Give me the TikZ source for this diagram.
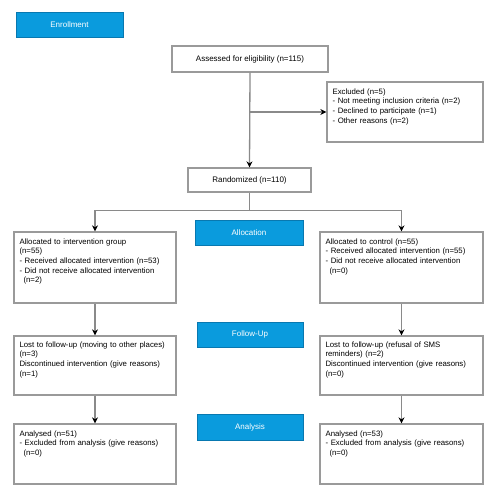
\documentclass[tikz,border=0pt]{standalone}
\usepackage{fontspec}
\setmainfont{Liberation Sans}
\usetikzlibrary{arrows.meta}
\definecolor{phase}{HTML}{0A9BDD}
\definecolor{phaseedge}{HTML}{0878B0}
\definecolor{boxedge}{HTML}{9A9A9A}
\definecolor{lineclr}{HTML}{8A8A8A}
\begin{document}
\begin{tikzpicture}[x=1pt,y=1pt,
  phasebox/.style={fill=phase,draw=phaseedge,line width=0.8pt,text=white,font=\fontsize{8}{9.5}\selectfont,inner sep=0pt},
  flowbox/.style={draw=boxedge,line width=1.3pt,fill=white,inner sep=0pt},
  flowtext/.style={anchor=north west,align=left,font=\fontsize{7.8}{9.6}\selectfont,inner sep=0pt},
  conn/.style={draw=lineclr,line width=1.3pt},
  arr/.style={conn,-{Stealth[length=6pt,width=6pt,fill=black,color=black]}}]
\useasboundingbox (0,0) rectangle (500,-500);
\fill[white] (0,0) rectangle (500,-500);

% phase labels
\node[phasebox,minimum width=107,minimum height=25] (enroll) at (69.5,-24.5) {Enrollment};
\node[phasebox,minimum width=108,minimum height=25] (alloc) at (249,-232.5) {Allocation};
\node[phasebox,minimum width=106,minimum height=25] (follow) at (250,-334.5) {Follow-Up};
\node[phasebox,minimum width=106,minimum height=26] (analysis) at (250,-427) {Analysis};

% enrollment boxes
\node[flowbox,minimum width=156,minimum height=26,font=\fontsize{8}{9.6}\selectfont] (assess) at (250,-59) {Assessed for eligibility (n=115)};
\node[flowbox,minimum width=156,minimum height=60] (excl) at (405,-112) {};
\node[flowtext,text width=148] (excltxt) at ([xshift=6,yshift=-7]excl.north west)
  {Excluded (n=5)\\- Not meeting inclusion criteria (n=2)\\- Declined to participate (n=1)\\- Other reasons (n=2)};
\node[flowbox,minimum width=123,minimum height=24,font=\fontsize{8}{9.6}\selectfont] (rand) at (249.5,-180) {Randomized (n=110)};

% allocation boxes
\node[flowbox,minimum width=162,minimum height=71] (allocL) at (95,-267.5) {};
\node[flowtext,text width=152] (allocLtxt) at ([xshift=6,yshift=-7]allocL.north west)
  {Allocated to intervention group\\(n=55)\\- Received allocated intervention (n=53)\\- Did not receive allocated intervention\\\hspace*{4pt}(n=2)};
\node[flowbox,minimum width=163,minimum height=71] (allocR) at (401.5,-267.5) {};
\node[flowtext,text width=152] (allocRtxt) at ([xshift=6,yshift=-7]allocR.north west)
  {Allocated to control (n=55)\\- Received allocated intervention (n=55)\\- Did not receive allocated intervention\\\hspace*{4pt}(n=0)};

% follow-up boxes
\node[flowbox,minimum width=162,minimum height=59] (followL) at (95,-365.5) {};
\node[flowtext,text width=154] (followLtxt) at ([xshift=6,yshift=-6]followL.north west)
  {Lost to follow-up (moving to other places)\\(n=3)\\Discontinued intervention (give reasons)\\(n=1)};
\node[flowbox,minimum width=163,minimum height=59] (followR) at (401.5,-365.5) {};
\node[flowtext,text width=154] (followRtxt) at ([xshift=6,yshift=-6]followR.north west)
  {Lost to follow-up (refusal of SMS\\reminders) (n=2)\\Discontinued intervention (give reasons)\\(n=0)};

% analysis boxes
\node[flowbox,minimum width=162,minimum height=60] (anL) at (95,-454) {};
\node[flowtext,text width=154] (anLtxt) at ([xshift=6,yshift=-7]anL.north west)
  {Analysed (n=51)\\- Excluded from analysis (give reasons)\\\hspace*{4pt}(n=0)};
\node[flowbox,minimum width=163,minimum height=60] (anR) at (401.5,-454) {};
\node[flowtext,text width=154] (anRtxt) at ([xshift=6,yshift=-7]anR.north west)
  {Analysed (n=53)\\- Excluded from analysis (give reasons)\\\hspace*{4pt}(n=0)};

% connectors
\coordinate (branch) at (assess.south |- excl.west);
\draw[arr] (assess.south) -- (rand.north);
\draw[arr] (branch) -- (excl.west);
\draw[conn] (rand.south) -- ++(0,-18) coordinate (split);
\draw[arr] (split) -| (allocL.north);
\draw[arr] (split) -| (allocR.north);
\draw[arr] (allocL.south) -- (followL.north);
\draw[arr] (allocR.south) -- (followR.north);
\draw[arr] (followL.south) -- (anL.north);
\draw[arr] (followR.south) -- (anR.north);
\end{tikzpicture}
\end{document}
